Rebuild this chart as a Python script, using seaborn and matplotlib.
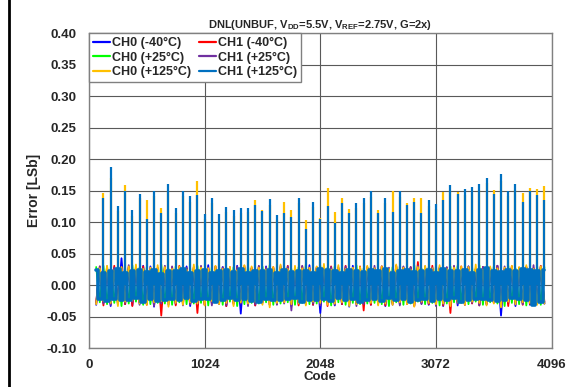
import matplotlib
matplotlib.use("Agg")
import matplotlib.pyplot as plt
import numpy as np
import pandas as pd
import seaborn as sns
from matplotlib.patches import Rectangle

# 0. Data (values in thousandths of an LSb)
codes = np.arange(64, 4033, 32)          # noise sample codes
spike_codes = np.arange(128, 4033, 64)   # codes with the periodic DNL spikes

ch0_m40 = [
    -31, 28, -27, 30, -33, 26, -29, 43, -30, 27, -32, 29, -28, 31, -26, 30, -34, 27, -29, 28, -31, 26, -30, 29, -27,
    30, -33, 28, -29, 26, -31, 32, -28, 27, -30, 29, -33, 26, -28, 31, -45, 28, -30, 27, -32, 29, -26, 30, -31, 27,
    -29, 31, -27, 28, -33, 26, -30, 29, -28, 32, -31, 27, -44, 30, -26, 28, -32, 29, -30, 27, -34, 31, -28, 26, -30,
    28, -31, 27, -29, 30, -33, 26, -28, 31, -30, 29, -27, 28, -32, 26, -29, 30, -31, 27, -28, 29, -33, 26, -30, 28,
    -32, 27, -29, 30, -28, 26, -31, 29, -30, 28, -27, 31, -48, 26, -29, 30, -33, 27, -28, 29, -31, 26, -30, 28, -29,
]
ch1_m40 = [
    -28, 30, -32, 27, -29, 31, -26, 28, -30, 29, -33, 27, -28, 30, -31, 26, -29, 28, -48, 30, -27, 29, -32, 31, -28,
    27, -30, 29, -44, 28, -31, 26, -29, 30, -28, 27, -33, 29, -30, 28, -26, 31, -29, 27, -32, 30, -28, 26, -31, 29,
    -30, 28, -27, 31, -29, 26, -32, 30, -28, 27, -31, 29, -26, 28, -33, 30, -29, 27, -30, 31, -28, 26, -29, 30, -40,
    29, -31, 27, -28, 30, -32, 26, -29, 31, -27, 28, -30, 29, -33, 37, -28, 26, -30, 31, -29, 27, -32, 28, -44, 30,
    -27, 30, -31, 28, -29, 26, -32, 29, -30, 27, -28, 31, -29, 26, -33, 30, -27, 28, -31, 29, -30, 27, -28, 31, -26,
]
ch0_p25 = [
    29, -27, 31, -30, 26, -28, 30, -33, 27, -29, 32, -26, 28, -31, 29, -30, 27, -28, 33, -29, 26, -31, 30, -27, 28,
    -30, 27, -29, 31, -28, 26, -32, 29, -27, 30, -31, 28, -26, 29, -33, 27, -30, 31, -28, 26, -29, 30, -27, 32, -31,
    28, -29, 30, -27, 26, -31, 29, -28, 33, -30, 27, -29, 31, -26, 28, -32, 30, -27, 29, -31, 26, -28, 32, -30, 27,
    -29, 31, -28, 27, -30, 26, -33, 29, -27, 30, -31, 28, -29, 32, -26, 27, -30, 29, -28, 31, -32, 26, -29, 30, -27,
    31, -28, 27, -30, 29, -26, 32, -31, 28, -27, 30, -29, 26, -33, 31, -28, 27, -30, 29, -32, 28, -27, 30, -31, 29,
]
ch1_p25 = [
    -27, 30, -29, 26, -31, 28, -30, 27, -28, 32, -26, 29, -31, 27, -30, 28, -33, 26, -29, 31, -27, 30, -28, 29, -32,
    28, -30, 26, -29, 31, -27, 28, -32, 30, -26, 29, -31, 27, -28, 30, -29, 26, -33, 28, -30, 31, -27, 29, -28, 26,
    -31, 28, -29, 30, -40, 27, -28, 31, -30, 26, -29, 28, -32, 30, -27, 29, -31, 26, -28, 30, -29, 27, -33, 28, -30,
    29, -28, 31, -30, 26, -29, 28, -31, 27, -32, 30, -28, 29, -27, 31, -30, 26, -29, 28, -33, 27, -30, 29, -28, 31,
    -29, 27, -31, 30, -28, 26, -32, 29, -30, 28, -27, 31, -29, 30, -26, 28, -31, 27, -30, 29, -28, 32, -27, 30, -29,
]
ch0_p125 = [
    -30, 27, -25, 31, -28, 24, -33, 29, -26, 30, -24, 33, -29, 26, -31, 28, -27, 32, -25, 29, -34, 26, -28, 30, -31,
    25, -27, 33, -29, 28, -32, 27, -25, 31, -30, 26, -28, 29, -33, 24, -27, 32, -29, 30, -26, 28, -31, 25, -35, 29,
    -28, 33, -27, 26, -30, 31, -29, 27, -32, 28, -26, 30, -28, 34, -31, 25, -29, 32, -27, 26, -33, 28, -30, 29, -25,
    31, -28, 27, -32, 30, -29, 26, -31, 33, -27, 28, -30, 25, -34, 29, -26, 31, -28, 27, -30, 32, -29, 26, -33, 28,
    -27, 30, -31, 29, -26, 33, -28, 25, -32, 30, -29, 27, -35, 28, -26, 31, -30, 29, -27, 32, -28, 26, -31, 30, -29,
]
ch1_p125 = [
    24, -22, 20, -25, 23, -21, 26, -23, 19, -24, 22, -20, 25, -26, 21, -22, 24, -25, 18, -23, 23, -21, 22, -24, 26,
    -20, 20, -25, 23, -22, 25, -21, 19, -26, 22, -23, 24, -20, 21, -24, 26, -22, 20, -25, 23, -27, 22, -21, 24, -23,
    19, -24, 25, -22, 21, -20, 23, -26, 22, -24, 20, -23, 26, -21, 24, -25, 22, -20, 19, -24, 25, -22, 23, -26, 21,
    -23, 24, -21, 22, -25, 26, -20, 20, -24, 23, -22, 25, -27, 21, -23, 22, -21, 24, -25, 19, -22, 26, -24, 23, -20,
    22, -26, 24, -23, 20, -22, 25, -21, 27, -24, 22, -25, 21, -23, 24, -20, 23, -22, 26, -24, 25, -31, 22, -26, 24,
]

# spike heights (LSb) of the two +125C traces
spike_ch0_p125 = [
    0.146, 0.170, 0.118, 0.159, 0.110, 0.138, 0.136, 0.141, 0.122, 0.150,
    0.115, 0.142, 0.133, 0.166, 0.106, 0.131, 0.104, 0.117, 0.110, 0.114,
    0.116, 0.136, 0.119, 0.128, 0.104, 0.133, 0.119, 0.130, 0.103, 0.125,
    0.107, 0.155, 0.116, 0.139, 0.121, 0.122, 0.130, 0.140, 0.119, 0.131,
    0.149, 0.140, 0.130, 0.139, 0.139, 0.126, 0.121, 0.148, 0.150, 0.148,
    0.144, 0.147, 0.152, 0.162, 0.151, 0.166, 0.141, 0.151, 0.146, 0.154,
    0.153, 0.158,
]
spike_ch1_p125 = [
    0.138, 0.187, 0.126, 0.149, 0.119, 0.145, 0.105, 0.150, 0.115, 0.160,
    0.123, 0.150, 0.142, 0.143, 0.113, 0.139, 0.113, 0.124, 0.119, 0.123,
    0.123, 0.127, 0.118, 0.137, 0.111, 0.115, 0.108, 0.139, 0.090, 0.133,
    0.105, 0.126, 0.099, 0.130, 0.114, 0.131, 0.139, 0.149, 0.114, 0.139,
    0.116, 0.149, 0.127, 0.132, 0.115, 0.135, 0.129, 0.135, 0.159, 0.145,
    0.153, 0.156, 0.161, 0.171, 0.145, 0.177, 0.150, 0.160, 0.132, 0.150,
    0.143, 0.136,
]

series = [
    ("CH0 (-40°C)", "#0000FF", ch0_m40, None),
    ("CH1 (-40°C)", "#FF0000", ch1_m40, None),
    ("CH0 (+25°C)", "#00FF00", ch0_p25, None),
    ("CH1 (+25°C)", "#7030A0", ch1_p25, None),
    ("CH0 (+125°C)", "#FFC000", ch0_p125, spike_ch0_p125),
    ("CH1 (+125°C)", "#0070C0", ch1_p125, spike_ch1_p125),
]

# 1. Figure setup
sns.set_style("white")
plt.rcParams["font.family"] = ["Liberation Sans", "DejaVu Sans"]
plt.rcParams["font.weight"] = "bold"
plt.rcParams["mathtext.fontset"] = "custom"
plt.rcParams["mathtext.rm"] = "Liberation Sans"
plt.rcParams["mathtext.bf"] = "Liberation Sans:bold"

fig = plt.figure(figsize=(5.74, 3.87), dpi=100)
ax = fig.add_axes([0.155, 0.100, 0.806, 0.814])

# 2. Traces: the top trace is drawn as thick steps (solid core of the band),
#    the ones underneath as thin lines so they show as fringe strokes
n = len(series)
for i, (label, color, noise, spikes) in enumerate(series):
    df = pd.DataFrame({"Code": codes, "DNL": np.array(noise) / 1000.0})
    top = i == n - 1
    sns.lineplot(data=df, x="Code", y="DNL", color=color,
                 lw=2.6 if top else 1.3,
                 drawstyle="steps-mid" if top else "default",
                 label=label, ax=ax, sort=False, estimator=None, zorder=2 + i)
    if spikes is not None:
        ax.vlines(spike_codes, 0, spikes, colors=color, lw=1.6, zorder=2 + i)

# 3. Axes styling
ax.set_xlim(0, 4096)
ax.set_ylim(-0.10, 0.40)
ax.set_xticks([0, 1024, 2048, 3072, 4096])
ax.set_yticks(np.arange(-0.10, 0.401, 0.05))
ax.yaxis.set_major_formatter(matplotlib.ticker.FormatStrFormatter("%.2f"))
ax.tick_params(length=0, labelsize=9.5)
ax.tick_params(axis="y", pad=9)
ax.tick_params(axis="x", pad=8)
for t in ax.get_xticklabels() + ax.get_yticklabels():
    t.set_fontweight("bold")
ax.grid(True, color="#595959", lw=0.8)
ax.set_axisbelow(True)
for s in ax.spines.values():
    s.set_color("#808080")
    s.set_linewidth(1.0)

ax.set_title(r"DNL(UNBUF, V$_{\rm DD}$=5.5V, V$_{\rm REF}$=2.75V, G=2x)",
             fontsize=8, fontweight="bold", pad=4)
ax.set_xlabel("Code", fontsize=9.5, fontweight="bold", labelpad=0)
ax.set_ylabel("Error [LSb]", fontsize=10, fontweight="bold", labelpad=4)

# legend filled row by row, as in the reference
handles, labels = ax.get_legend_handles_labels()
order = [0, 2, 4, 1, 3, 5]
leg = ax.legend([handles[k] for k in order], [labels[k] for k in order],
                loc="upper left", ncol=2, fontsize=9,
                frameon=True, fancybox=False, edgecolor="#808080",
                framealpha=1, borderaxespad=0, handlelength=1.4,
                handletextpad=0.15, columnspacing=0.6, labelspacing=0.2,
                borderpad=0.3)
leg.get_frame().set_linewidth(1.0)
for h in leg.get_lines():
    h.set_linewidth(1.6)
    h.set_drawstyle("default")
for t in leg.get_texts():
    t.set_fontweight("bold")

# outer frame of the figure
fig.add_artist(Rectangle((8.5 / 574, -0.2), 1.2, 1.2 + 1 - 10.5 / 387,
                         transform=fig.transFigure, fill=False,
                         edgecolor="black", lw=2, clip_on=False))

plt.savefig("out.png", dpi=100)
